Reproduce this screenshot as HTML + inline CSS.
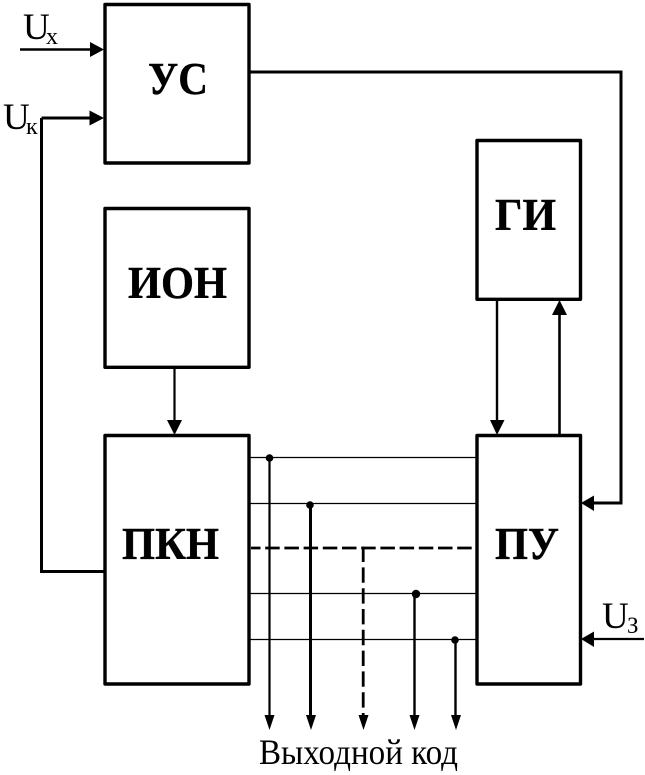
<!DOCTYPE html>
<html><head><meta charset="utf-8"><style>
html,body{margin:0;padding:0;background:#fff}
svg{display:block}
text{font-family:"Liberation Serif","DejaVu Serif",serif;fill:#000}
.b{font-weight:bold;font-size:45px;stroke:#000;stroke-width:.4px}
</style></head><body>
<svg width="645" height="775" viewBox="0 0 645 775" xmlns="http://www.w3.org/2000/svg">
<rect width="645" height="775" fill="#fff"/>
<g fill="none" stroke="#000" stroke-width="3.4" stroke-linejoin="round">
<rect x="105" y="4.500" width="144" height="158.500"/>
<rect x="105" y="208.500" width="144" height="158.800"/>
<rect x="105" y="435.500" width="144" height="248.500"/>
<rect x="477" y="140.500" width="103.500" height="158.800"/>
<rect x="477" y="435.500" width="103.500" height="248.500"/>
</g>
<g fill="none" stroke="#000">
<path d="M20 49.500H95" stroke-width="2.400"/>
<path d="M41.500 118H95M41.500 118V571.500H104" stroke-width="3"/>
<path d="M250 72H621V503H592" stroke-width="3"/>
<path d="M174.500 367V421" stroke-width="2.200"/>
<path d="M497 299V421" stroke-width="2.400"/>
<path d="M559.500 435V313" stroke-width="2.600"/>
<path d="M644 639H592" stroke-width="2.200"/>
<path d="M250 457.500H476M250 503.500H476M250 593.500H476M250 639.500H476" stroke-width="1.300"/>
<path d="M269.500 458V716" stroke-width="2.200"/>
<path d="M310.500 504V716" stroke-width="3"/>
<path d="M414.500 594V716" stroke-width="2.400"/>
<path d="M455.500 640V716" stroke-width="2.400"/>
<path d="M471.700 548H251" stroke-width="2.800" stroke-dasharray="14.500 4.700"/>
<path d="M363.200 546.600V716" stroke-width="2.800" stroke-dasharray="15.400 5.400"/>
</g>
<g fill="#000">
<polygon points="104,49.500 90,42 90,57"/>
<polygon points="104,118 89.500,110.500 89.500,125.500"/>
<polygon points="174.500,435 167,420 182,420"/>
<polygon points="497,435 490,420 504.500,420"/>
<polygon points="559.500,300 552,315 567,315"/>
<polygon points="581,503 594,495.500 594,511"/>
<polygon points="581,639 594,631.500 594,647"/>
<polygon points="269.500,730 264.500,715 274.500,715"/>
<polygon points="311,730 306,715 316,715"/>
<polygon points="363.500,730 358.500,715 368.500,715"/>
<polygon points="414.500,730 409.500,715 419.500,715"/>
<polygon points="456,730 451,715 461,715"/>
<circle cx="269.500" cy="458" r="3.800"/>
<circle cx="310" cy="505" r="3.800"/>
<circle cx="416" cy="594" r="4.200"/>
<circle cx="455" cy="640" r="3.800"/>
</g>
<text class="b" x="148" y="94" textLength="60" lengthAdjust="spacingAndGlyphs">УС</text>
<text class="b" x="128" y="298" textLength="99" lengthAdjust="spacingAndGlyphs">ИОН</text>
<text class="b" x="122" y="559" textLength="97" lengthAdjust="spacingAndGlyphs">ПКН</text>
<text class="b" x="495" y="230" textLength="61" lengthAdjust="spacingAndGlyphs">ГИ</text>
<text class="b" x="495" y="559" textLength="64" lengthAdjust="spacingAndGlyphs">ПУ</text>
<text x="23" y="39" font-size="37">U</text>
<text x="46" y="44" font-size="24">х</text>
<text x="3" y="129" font-size="37">U</text>
<text x="26" y="134" font-size="24">к</text>
<text x="602" y="628" font-size="37">U</text>
<text x="627" y="633" font-size="23">З</text>
<text x="259" y="764" font-size="36" textLength="199" lengthAdjust="spacingAndGlyphs">Выходной код</text>
</svg>
</body></html>
